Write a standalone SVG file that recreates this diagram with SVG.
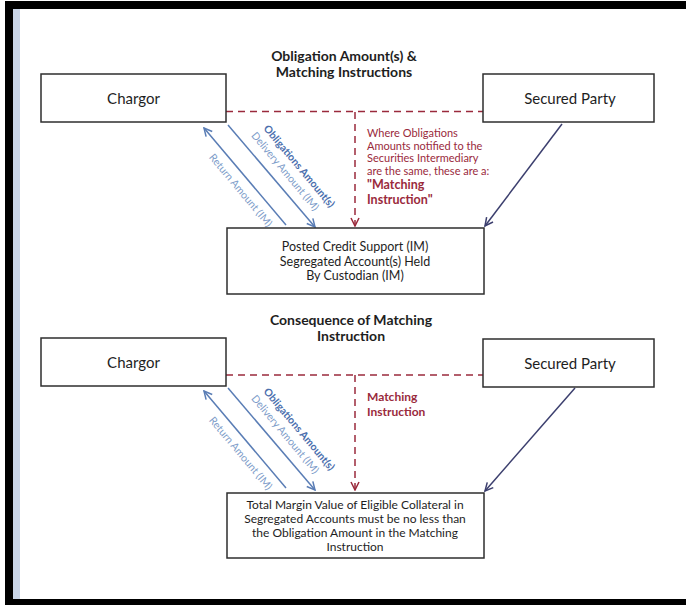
<svg xmlns="http://www.w3.org/2000/svg" width="686" height="605" viewBox="0 0 686 605">
<defs>
<style>
.box{fill:#fff;stroke:#2e2e2e;stroke-width:1.5}
.lbl{font-family:Lato,"Liberation Sans",sans-serif;fill:#1e1e1e;text-anchor:middle}
.title{font-family:Lato,"Liberation Sans",sans-serif;font-weight:bold;font-size:14px;fill:#1e1e1e;text-anchor:middle}
.red{font-family:Lato,"Liberation Sans",sans-serif;fill:#9a2a3c}
.blue{stroke:#5a7db5;stroke-width:1.5;fill:none}
.navy{stroke:#3c3f6e;stroke-width:1.5;fill:none}
.dash{stroke:#9a2a3c;stroke-width:1.5;fill:none;stroke-dasharray:7 5}
.bl1{font-family:Lato,"Liberation Sans",sans-serif;font-size:10.5px;font-weight:bold;fill:#4b6fae;text-anchor:middle}
.bl2{font-family:Lato,"Liberation Sans",sans-serif;font-size:10.5px;fill:#7d9cc9;text-anchor:middle}
</style>
<marker id="ab" viewBox="0 0 10 10" refX="9" refY="5" markerWidth="10" markerHeight="10" markerUnits="userSpaceOnUse" orient="auto"><path d="M1,1 L9,5 L1,9" fill="none" stroke="#5a7db5" stroke-width="1.5"/></marker>
<marker id="an" viewBox="0 0 10 10" refX="9" refY="5" markerWidth="10" markerHeight="10" markerUnits="userSpaceOnUse" orient="auto"><path d="M1,1 L9,5 L1,9" fill="none" stroke="#3c3f6e" stroke-width="1.5"/></marker>
<marker id="ar" viewBox="0 0 10 10" refX="9" refY="5" markerWidth="10" markerHeight="10" markerUnits="userSpaceOnUse" orient="auto"><path d="M1,1 L9,5 L1,9" fill="none" stroke="#9a2a3c" stroke-width="1.5"/></marker>
</defs>
<rect x="0" y="0" width="686" height="605" fill="#fff"/>
<rect x="13" y="9" width="7" height="590" fill="#c9d5e7"/>
<rect x="5" y="1" width="681" height="8" fill="#000"/>
<rect x="5" y="1" width="8" height="604" fill="#000"/>
<rect x="5" y="599" width="681" height="6" fill="#000"/>

<text class="title" x="344" y="61">Obligation Amount(s) &amp;</text>
<text class="title" x="344" y="77">Matching Instructions</text>
<text class="title" x="351" y="325">Consequence of Matching</text>
<text class="title" x="351" y="341">Instruction</text>

<g id="connectors">
<path class="dash" d="M226,111.5 H483"/>
<path class="dash" d="M355,112 V226" marker-end="url(#ar)"/>
<path class="blue" d="M228,125 L315,227" marker-end="url(#ab)"/>
<path class="blue" d="M286,225 L204,128" marker-end="url(#ab)"/>
<path class="navy" d="M562,124 L485,226" marker-end="url(#an)"/>
<path class="dash" d="M226,375 H483"/>
<path class="dash" d="M355,375 V490" marker-end="url(#ar)"/>
<path class="blue" d="M228,388 L315,490" marker-end="url(#ab)"/>
<path class="blue" d="M286,488 L204,391" marker-end="url(#ab)"/>
<path class="navy" d="M575,388 L485,491" marker-end="url(#an)"/>
<text class="bl1" transform="translate(299.5,166) rotate(50)" y="4">Obligations Amount(s)</text>
<text class="bl2" transform="translate(285.5,171) rotate(50)" y="4">Delivery Amount (IM)</text>
<text class="bl2" transform="translate(241,190) rotate(50)" y="4">Return Amount (IM)</text>
<text class="bl1" transform="translate(299.5,429) rotate(50)" y="4">Obligations Amount(s)</text>
<text class="bl2" transform="translate(285.5,434) rotate(50)" y="4">Delivery Amount (IM)</text>
<text class="bl2" transform="translate(241,453) rotate(50)" y="4">Return Amount (IM)</text>
<text class="red" font-size="11" x="367" y="137">Where Obligations</text>
<text class="red" font-size="11" x="367" y="149.5">Amounts notified to the</text>
<text class="red" font-size="11" x="367" y="162">Securities Intermediary</text>
<text class="red" font-size="11" x="367" y="174.5">are the same, these are a:</text>
<text class="red" font-size="12.5" font-weight="bold" x="367" y="189">"Matching</text>
<text class="red" font-size="12.5" font-weight="bold" x="367" y="204">Instruction"</text>
<text class="red" font-size="12" font-weight="bold" x="367" y="401">Matching</text>
<text class="red" font-size="12" font-weight="bold" x="367" y="416">Instruction</text>
</g>

<g id="chargor1">
<rect class="box" x="41" y="74" width="185" height="48"/>
<text class="lbl" font-size="15" x="133.5" y="104">Chargor</text>
</g>
<g id="secured1">
<rect class="box" x="483" y="74" width="171" height="48"/>
<text class="lbl" font-size="15" x="570" y="104">Secured Party</text>
</g>
<g id="custodian">
<rect class="box" x="227" y="228" width="257" height="66"/>
<text class="lbl" font-size="12.5" x="355" y="251">Posted Credit Support (IM)</text>
<text class="lbl" font-size="12.5" x="355" y="266">Segregated Account(s) Held</text>
<text class="lbl" font-size="12.5" x="355" y="280">By Custodian (IM)</text>
</g>
<g id="chargor2">
<rect class="box" x="41" y="338" width="185" height="48"/>
<text class="lbl" font-size="15" x="133.5" y="368">Chargor</text>
</g>
<g id="secured2">
<rect class="box" x="483" y="339" width="171" height="48"/>
<text class="lbl" font-size="15" x="570" y="369">Secured Party</text>
</g>
<g id="consequence">
<rect class="box" x="227" y="493" width="257" height="65"/>
<text class="lbl" font-size="12" x="355" y="509">Total Margin Value of Eligible Collateral in</text>
<text class="lbl" font-size="12" x="355" y="523">Segregated Accounts must be no less than</text>
<text class="lbl" font-size="12" x="355" y="537">the Obligation Amount in the Matching</text>
<text class="lbl" font-size="12" x="355" y="551">Instruction</text>
</g>
</svg>
